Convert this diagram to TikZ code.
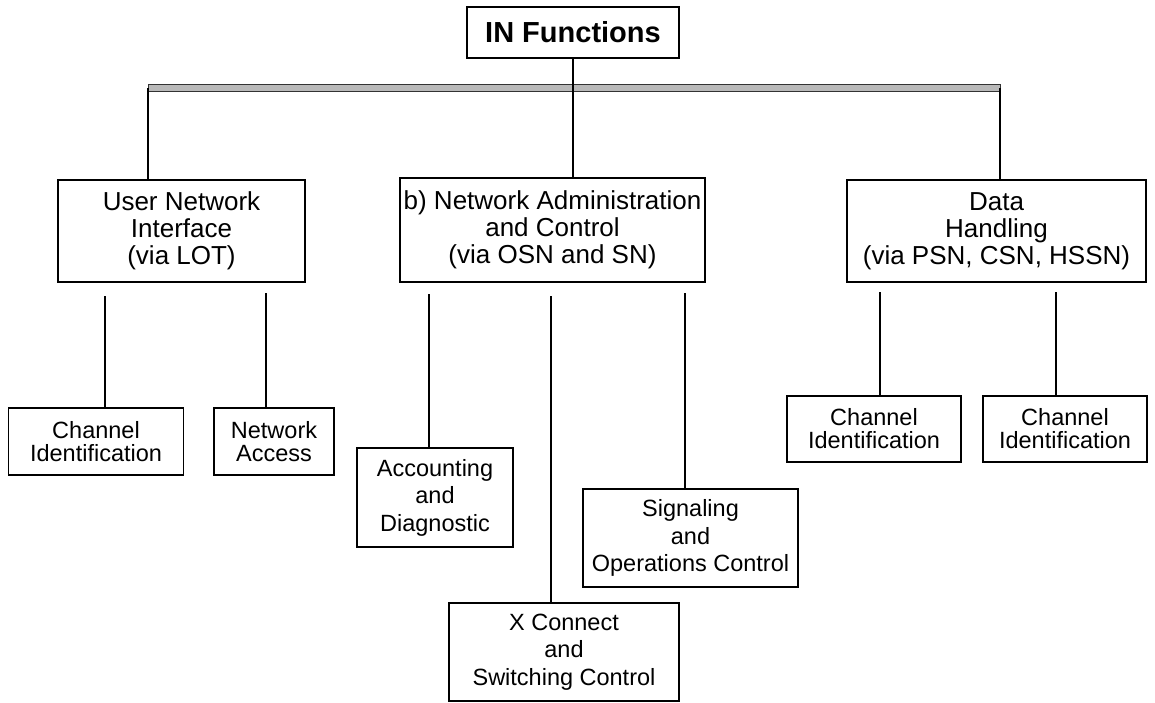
\documentclass[tikz,border=0pt]{standalone}
\usepackage{fontspec}
\setmainfont{Liberation Sans}
\begin{document}
\begin{tikzpicture}[x=1pt,y=-1pt,
  box/.style={draw=black,line width=1.3pt,inner sep=0pt,align=center},
  big/.style={box,font=\fontsize{26}{27}\selectfont},
  small/.style={box,font=\fontsize{23.5}{23}\selectfont},
  mid/.style={box,font=\fontsize{23.5}{27.5}\selectfont},
  link/.style={line width=1.2pt}]
\useasboundingbox (0,0) rectangle (1155,702);
% top
\node[box,font=\fontsize{29}{30}\selectfont\bfseries,minimum width=212pt,minimum height=51pt] (in) at (573,32.5) {IN Functions};
% bar
\fill[gray!55,draw=black!80,line width=0.6pt] (148,84.5) rectangle (1000,91.5);
\coordinate (bl) at (148,88);
\coordinate (br) at (1000,88);
% level 1
\node[big,minimum width=247pt,minimum height=102pt] (uni) at (181.5,231) {User Network\\Interface\\(via LOT)};
\node[big,minimum width=305pt,minimum height=104pt] (nac) at (552.5,230) {b) Network Administration\\and Control\\(via OSN and SN)};
\node[big,minimum width=299pt,minimum height=102pt] (dh) at (996.5,231) {Data\\Handling\\(via PSN, CSN, HSSN)};
\draw[link] (in.south) -- (in.south |- nac.north);
\draw[link] (bl) -- (bl |- uni.north);
\draw[link] (br) -- (br |- dh.north);
% level 2
\node[small,minimum width=175pt,minimum height=67pt] (ci1) at (96,441.5) {Channel\\Identification};
\node[small,minimum width=120pt,minimum height=67pt] (na) at (274,441.5) {Network\\Access};
\node[mid,minimum width=156pt,minimum height=99pt] (ad) at (435,497.5) {Accounting\\and\\Diagnostic};
\node[mid,minimum width=230pt,minimum height=98pt] (xc) at (564,652) {X Connect\\and\\Switching Control};
\node[mid,minimum width=215pt,minimum height=98pt] (so) at (690.5,538) {Signaling\\and\\Operations Control};
\node[small,minimum width=174pt,minimum height=66pt] (ci2) at (874,429) {Channel\\Identification};
\node[small,minimum width=164pt,minimum height=66pt] (ci3) at (1065,429) {Channel\\Identification};
\coordinate (u1) at (105,296);
\coordinate (u2) at (266,293);
\coordinate (m1) at (429,294);
\coordinate (m2) at (551,296);
\coordinate (m3) at (685,293);
\coordinate (d1) at (880,292);
\coordinate (d2) at (1056,292);
\draw[link] (u1) -- (u1 |- ci1.north);
\draw[link] (u2) -- (u2 |- na.north);
\draw[link] (m1) -- (m1 |- ad.north);
\draw[link] (m2) -- (m2 |- xc.north);
\draw[link] (m3) -- (m3 |- so.north);
\draw[link] (d1) -- (d1 |- ci2.north);
\draw[link] (d2) -- (d2 |- ci3.north);
\end{tikzpicture}
\end{document}
